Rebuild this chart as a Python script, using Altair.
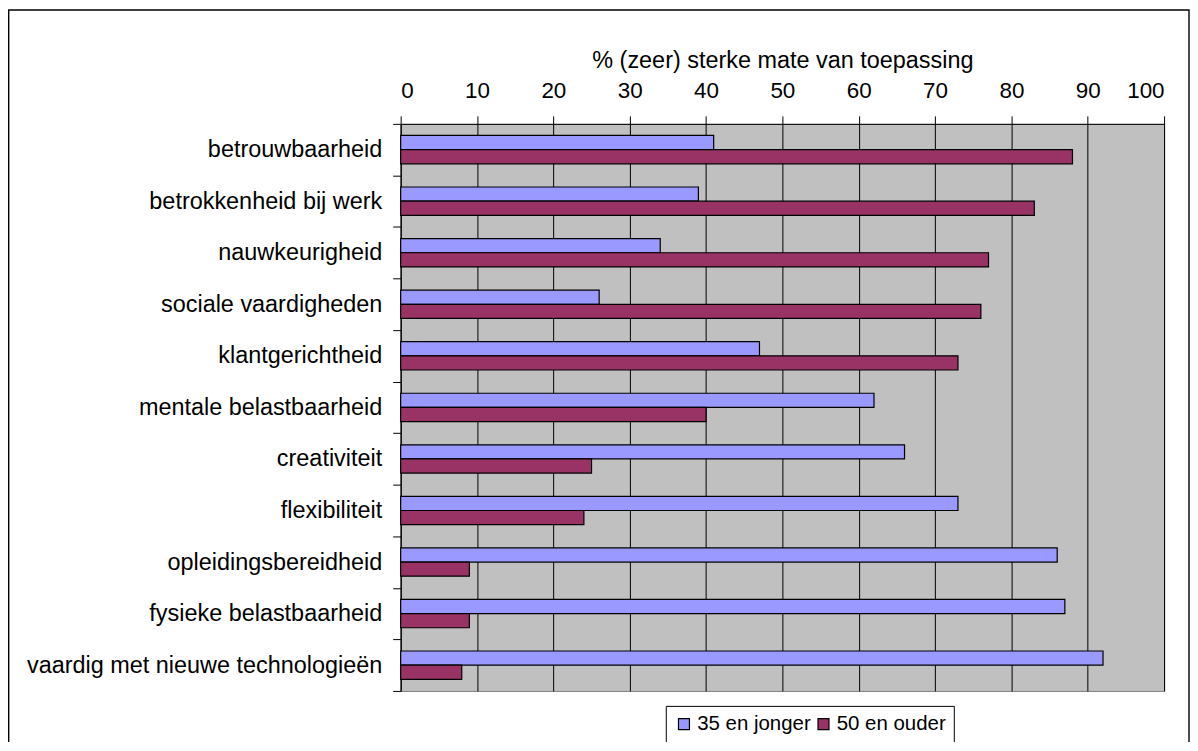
import altair as alt
import pandas as pd

categories = [
    "betrouwbaarheid",
    "betrokkenheid bij werk",
    "nauwkeurigheid",
    "sociale vaardigheden",
    "klantgerichtheid",
    "mentale belastbaarheid",
    "creativiteit",
    "flexibiliteit",
    "opleidingsbereidheid",
    "fysieke belastbaarheid",
    "vaardig met nieuwe technologieën",
]
series_names = ["35 en jonger", "50 en ouder"]
young = [41, 39, 34, 26, 47, 62, 66, 73, 86, 87, 92]
old = [88, 83, 77, 76, 73, 40, 25, 24, 9, 9, 8]
x_ticks = [0, 10, 20, 30, 40, 50, 60, 70, 80, 90, 100]
colors = ["#9999FF", "#993366"]

rows = []
for c, a, b in zip(categories, young, old):
    rows.append({"kenmerk": c, "groep": series_names[0], "waarde": a})
    rows.append({"kenmerk": c, "groep": series_names[1], "waarde": b})
df = pd.DataFrame(rows)

FONT = "Liberation Sans"
W, H = 766, 569
PL, PT, PR, PB = 394, 115, 26, 50

bars = alt.Chart(df).mark_bar(stroke="black", strokeWidth=1.2).encode(
    x=alt.X(
        "waarde:Q",
        scale=alt.Scale(domain=[0, 100], nice=False),
        axis=alt.Axis(
            orient="top",
            values=x_ticks,
            title="% (zeer) sterke mate van toepassing",
            grid=True,
            gridColor="black",
            gridWidth=1,
            gridOpacity=1,
            tickSize=8,
            labelPadding=13,
            titlePadding=8,
            labelFontSize=22.5,
            titleFontSize=23.5,
        ),
    ),
    y=alt.Y(
        "kenmerk:N",
        sort=categories,
        scale=alt.Scale(paddingInner=0, paddingOuter=0),
        axis=alt.Axis(
            title=None,
            tickBand="extent",
            tickSize=8,
            labelPadding=11,
            grid=False,
            labelLimit=400,
            labelFontSize=23.5,
        ),
    ),
    yOffset=alt.YOffset(
        "groep:N",
        sort=series_names,
        scale=alt.Scale(paddingInner=0, paddingOuter=0.82),
    ),
    color=alt.Color(
        "groep:N",
        sort=series_names,
        scale=alt.Scale(domain=series_names, range=colors),
        legend=alt.Legend(
            title=None,
            orient="none",
            direction="horizontal",
            legendX=266,
            legendY=584,
            symbolType="square",
            symbolSize=121,
            symbolStrokeColor="black",
            symbolStrokeWidth=1.2,
            symbolOpacity=1,
            labelFontSize=20.5,
            labelFont=FONT,
            labelColor="black",
            labelOffset=3,
            columnPadding=2,
            padding=8,
            strokeColor="black",
            fillColor="white",
        ),
    ),
)

frame = alt.Chart(pd.DataFrame({"f": [0]})).mark_rect(
    fill=None, stroke="black", strokeWidth=1.4
).encode(
    x=alt.value(-PL + 0.7),
    x2=alt.value(W + PR - 1),
    y=alt.value(-PT + 0.7),
    y2=alt.value(H + PB + 30),
)

chart = alt.layer(bars, frame).properties(
    width=W,
    height=H,
    autosize=alt.AutoSizeParams(type="none"),
    padding={"left": PL, "top": PT, "right": PR, "bottom": PB},
    background="white",
).configure_view(
    fill="#C0C0C0", stroke="#808080", strokeWidth=1
).configure_axis(
    domainColor="black",
    tickColor="black",
    labelColor="black",
    titleColor="black",
    labelFont=FONT,
    titleFont=FONT,
    titleFontWeight="normal",
    domainWidth=1,
    tickWidth=1,
)

chart.save("out.html", embed_options={"renderer": "svg", "actions": False})
